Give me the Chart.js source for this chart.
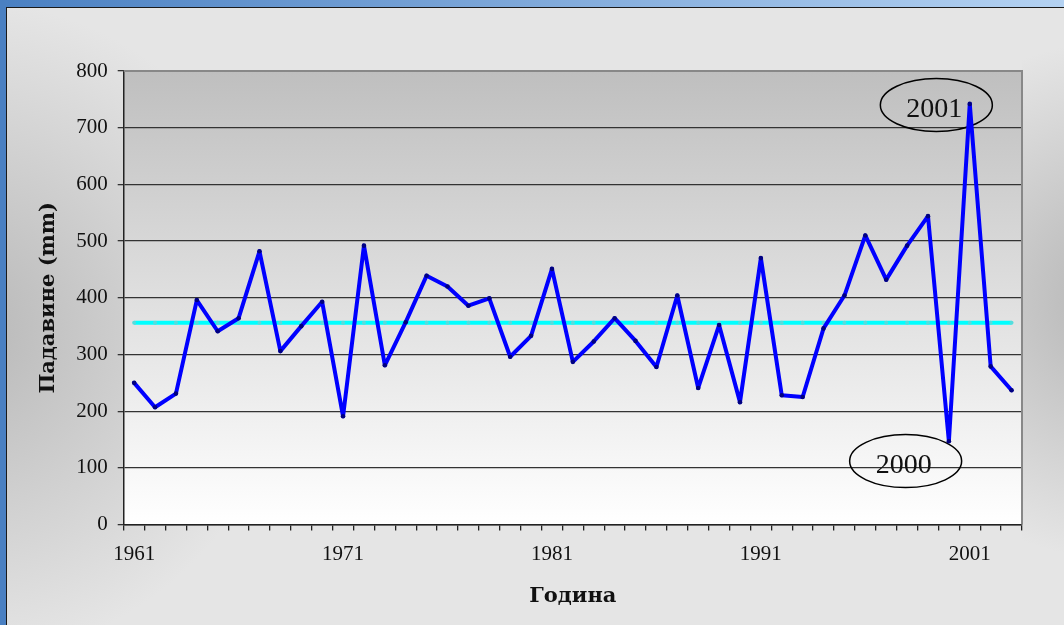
<!DOCTYPE html>
<html>
<head>
<meta charset="utf-8">
<script src="https://cdn.jsdelivr.net/npm/chart.js@4/dist/chart.umd.min.js"></script>
<style>
html,body{margin:0;padding:0;background:#e5e5e5;}
#c{display:block;}
</style>
</head>
<body>
<canvas id="c" width="1064" height="625"></canvas>
<script>
const years = [];
for (let y = 1961; y <= 2003; y++) years.push(String(y));
const precipitation = [250, 207, 231, 396, 341, 364, 482, 306, 350, 393,
  191, 492, 281, 357, 439, 420, 386, 399, 296, 333,
  451, 287, 323, 364, 324, 278, 404, 241, 352, 216,
  470, 228, 225, 346, 404, 510, 432, 492, 544, 147,
  742, 279, 237];
const meanValue = 356;
const meanSeries = years.map(() => meanValue);
const yTicks = [0, 100, 200, 300, 400, 500, 600, 700, 800];
const labelEvery = 10;
const annotLabels = ['2001', '2000'];
const annotIndex = [38.4, 36.93];
const annotValue = [740, 112];

const bgPlugin = {
  id: 'bg',
  beforeDraw(chart) {
    const ctx = chart.ctx, W = chart.width, H = chart.height, a = chart.chartArea;
    ctx.save();
    ctx.fillStyle = '#e5e5e5';
    ctx.fillRect(0, 0, W, H);
    let g = ctx.createRadialGradient(-40, 330, 0, -40, 330, 330);
    g.addColorStop(0, 'rgba(175,175,175,0.85)');
    g.addColorStop(1, 'rgba(175,175,175,0)');
    ctx.fillStyle = g;
    ctx.fillRect(0, 0, W, H);
    g = ctx.createRadialGradient(1120, 300, 0, 1120, 300, 260);
    g.addColorStop(0, 'rgba(175,175,175,0.9)');
    g.addColorStop(1, 'rgba(175,175,175,0)');
    ctx.fillStyle = g;
    ctx.fillRect(a.right, 0, W - a.right, H);
    g = ctx.createLinearGradient(0, 0, W, 0);
    g.addColorStop(0, '#4a80c2');
    g.addColorStop(1, '#b4d2f2');
    ctx.fillStyle = g;
    ctx.fillRect(0, 0, W, 7);
    ctx.fillStyle = '#4a80c2';
    ctx.fillRect(0, 0, 6, H);
    ctx.fillStyle = '#1a1a1a';
    ctx.fillRect(6, 7, W - 6, 1);
    ctx.fillRect(6, 7, 1, H - 7);
    g = ctx.createLinearGradient(0, a.top, 0, a.bottom);
    g.addColorStop(0, '#bfbfbf');
    g.addColorStop(1, '#ffffff');
    ctx.fillStyle = g;
    ctx.fillRect(a.left, a.top, a.right - a.left, a.bottom - a.top);
    ctx.restore();
  },
  beforeDatasetsDraw(chart) {
    const ctx = chart.ctx, a = chart.chartArea;
    ctx.save();
    ctx.strokeStyle = '#888888';
    ctx.lineWidth = 2;
    ctx.beginPath();
    ctx.moveTo(a.left, a.top);
    ctx.lineTo(a.right, a.top);
    ctx.lineTo(a.right, a.bottom);
    ctx.stroke();
    const xs = chart.scales.x, ys = chart.scales.y;
    for (let i = 0; i < annotLabels.length; i++) {
      const cx = xs.getPixelForValue(annotIndex[i]);
      const cy = ys.getPixelForValue(annotValue[i]);
      ctx.beginPath();
      ctx.ellipse(cx, cy, 56, 26.5, 0, 0, Math.PI * 2);
      ctx.strokeStyle = '#000';
      ctx.lineWidth = 1.5;
      ctx.stroke();
      ctx.fillStyle = '#111';
      ctx.font = '28px "Liberation Serif"';
      ctx.textAlign = 'center';
      ctx.textBaseline = 'middle';
      ctx.fillText(annotLabels[i], cx - 2, cy + 5);
    }
    ctx.restore();
  }
};

new Chart(document.getElementById('c'), {
  type: 'line',
  data: {
    labels: years,
    datasets: [
      {
        label: 'Средња вредност',
        data: meanSeries,
        borderColor: '#00ffff',
        borderWidth: 4,
        pointRadius: 2,
        pointBackgroundColor: '#55dddd',
        pointBorderColor: '#55dddd',
        pointBorderWidth: 0,
        tension: 0,
        order: 2
      },
      {
        label: 'Падавине',
        data: precipitation,
        borderColor: '#0000ff',
        borderWidth: 4,
        borderJoinStyle: 'round',
        borderCapStyle: 'round',
        pointRadius: 2.3,
        pointBackgroundColor: '#000080',
        pointBorderColor: '#000080',
        pointBorderWidth: 0,
        tension: 0,
        order: 1
      }
    ]
  },
  options: {
    responsive: false,
    animation: false,
    devicePixelRatio: 1,
    layout: { padding: { left: 32, right: 42, top: 71, bottom: 12 } },
    plugins: { legend: { display: false }, tooltip: { enabled: false } },
    scales: {
      x: {
        type: 'category',
        offset: true,
        grid: { offset: true, drawOnChartArea: false, drawTicks: true, tickLength: 6, color: '#222', lineWidth: 1.3 },
        border: { display: true, color: '#222', width: 1.5 },
        ticks: {
          autoSkip: false, maxRotation: 0, minRotation: 0, padding: 11,
          color: '#111', font: { family: '"Liberation Serif"', size: 21 },
          callback: function (v, i) { return i % labelEvery === 0 ? this.getLabelForValue(v) : ''; }
        },
        title: { display: true, text: 'Година', color: '#111',
          font: { family: '"DejaVu Serif"', size: 21, weight: 'bold' }, padding: { top: 6, bottom: 4 } }
      },
      y: {
        min: 0, max: 800,
        afterBuildTicks: (s) => { s.ticks = yTicks.map(v => ({ value: v })); },
        grid: { color: '#333', lineWidth: 1.3, tickLength: 6 },
        border: { display: true, color: '#222', width: 1.5 },
        ticks: { padding: 10, color: '#111', font: { family: '"Liberation Serif"', size: 21 } },
        title: { display: true, text: 'Падавине (mm)', color: '#111',
          font: { family: '"DejaVu Serif"', size: 21, weight: 'bold' }, padding: { top: 4, bottom: 5 } }
      }
    }
  },
  plugins: [bgPlugin]
});
</script>
</body>
</html>
